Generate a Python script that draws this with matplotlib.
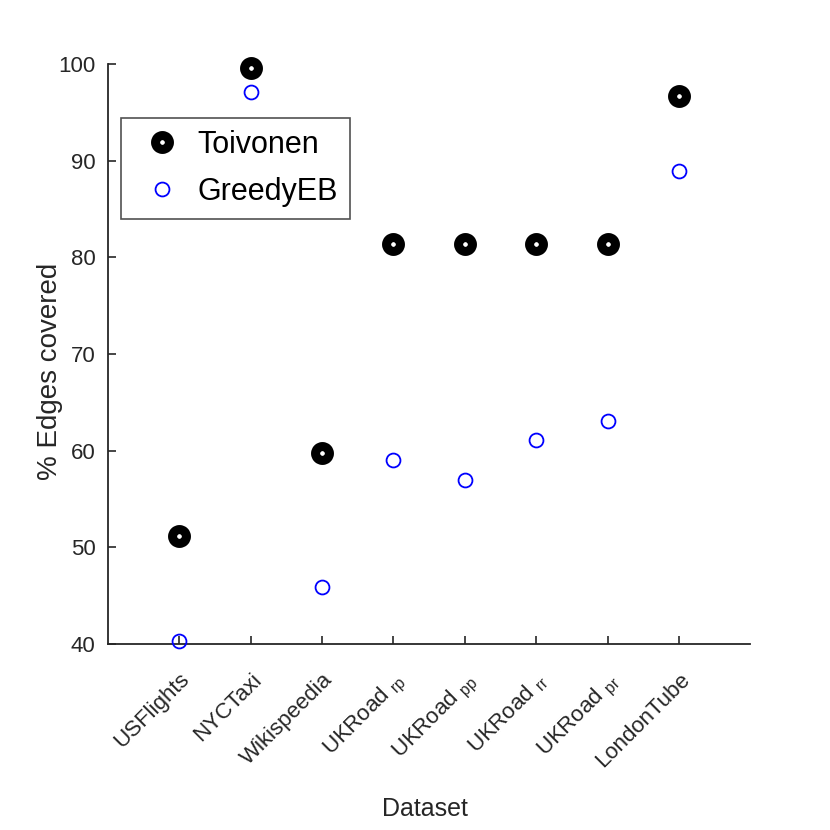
import matplotlib
matplotlib.use("Agg")
import matplotlib.pyplot as plt

# data
datasets = ["USFlights", "NYCTaxi", "Wikispeedia",
            r"UKRoad $\mathregular{_{rp}}$", r"UKRoad $\mathregular{_{pp}}$",
            r"UKRoad $\mathregular{_{rr}}$", r"UKRoad $\mathregular{_{pr}}$",
            "LondonTube"]
toivonen = [51.2, 99.6, 59.8, 81.4, 81.4, 81.4, 81.4, 96.7]
greedy_eb = [40.3, 97.1, 45.9, 59.0, 57.0, 61.1, 63.1, 88.9]
yticks = [40, 50, 60, 70, 80, 90, 100]

plt.rcParams["font.family"] = ["Liberation Sans", "DejaVu Sans"]
plt.rcParams["mathtext.fontset"] = "custom"
plt.rcParams["mathtext.rm"] = "Liberation Sans"

axcol = "#262626"

fig = plt.figure(figsize=(8.3, 8.3), dpi=100)
ax = fig.add_axes([0.130, 0.224, 0.774, 0.699])

x = list(range(1, len(datasets) + 1))
ax.plot(x, toivonen, linestyle="none", marker="o", ms=10, mfc="white",
        mec="black", mew=6.5, label="Toivonen", clip_on=False, zorder=3)
ax.plot(x, greedy_eb, linestyle="none", marker="o", ms=10, mfc="none",
        mec="#0000ff", mew=1.3, label="GreedyEB", clip_on=False, zorder=3)

ax.set_xlim(0, 9)
ax.set_ylim(40, 100)
ax.set_yticks(yticks)
ax.set_xticks(x)
ax.set_xticklabels(datasets, rotation=45, ha="right", va="top",
                   rotation_mode="anchor", fontsize=16, color=axcol)
for lab in ax.get_yticklabels():
    lab.set_fontsize(16)
    lab.set_color(axcol)

ax.tick_params(direction="in", length=6, width=1.2, color=axcol, pad=9)
ax.tick_params(axis="x", pad=18)
for side in ["top", "right"]:
    ax.spines[side].set_visible(False)
for side in ["left", "bottom"]:
    ax.spines[side].set_color(axcol)
    ax.spines[side].set_linewidth(1.3)

ax.set_xlabel("Dataset", fontsize=18, color=axcol)
ax.xaxis.set_label_coords(0.493, -0.264)
ax.set_ylabel("% Edges covered", fontsize=20, color=axcol)
ax.yaxis.set_label_coords(-0.07, 0.47)

leg = ax.legend(loc="upper left", bbox_to_anchor=(0.02, 0.907),
                borderaxespad=0, fontsize=22, frameon=True, fancybox=False,
                handletextpad=0.2, borderpad=0.4, labelspacing=0.55,
                handlelength=1.9)
leg.get_frame().set_edgecolor(axcol)
leg.get_frame().set_linewidth(1.2)

fig.savefig("out.png", dpi=100)
